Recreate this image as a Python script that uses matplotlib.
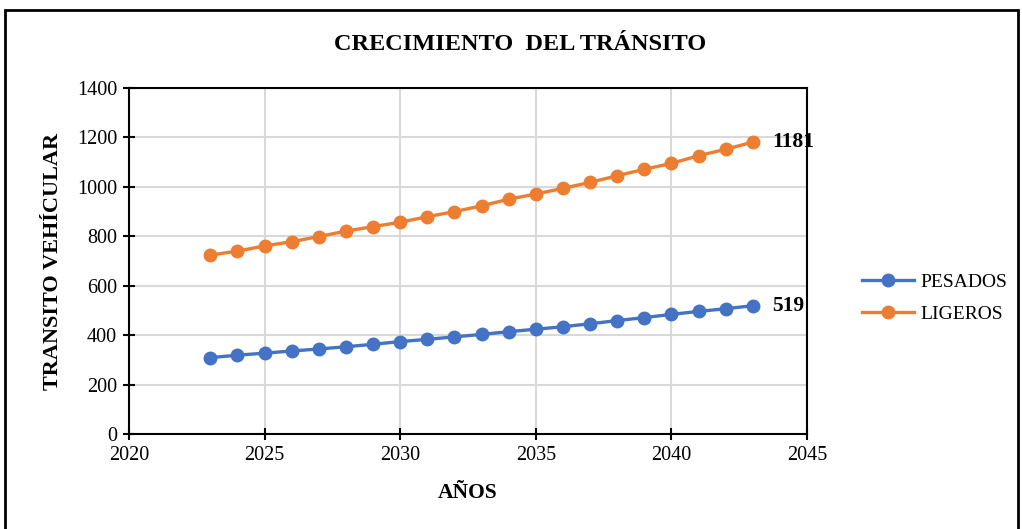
import matplotlib
matplotlib.use("Agg")
import matplotlib.pyplot as plt
from matplotlib.patches import Rectangle

years = list(range(2023, 2044))
pesados = [309, 319, 327, 336, 344, 353, 363, 374, 383, 393, 403, 414, 424, 434, 446, 459, 471, 484, 496, 507, 519]
ligeros = [724, 740, 761, 778, 799, 821, 839, 857, 879, 900, 923, 950, 971, 994, 1018, 1045, 1071, 1095, 1126, 1152, 1181]

x_ticks = [2020, 2025, 2030, 2035, 2040, 2045]
y_ticks = [0, 200, 400, 600, 800, 1000, 1200, 1400]

title = "CRECIMIENTO  DEL TRÁNSITO"
xlabel = "AÑOS"
ylabel = "TRANSITO VEHÍCULAR"
series_names = ["PESADOS", "LIGEROS"]

plt.rcParams['font.family'] = ['Liberation Serif', 'DejaVu Serif']

fig = plt.figure(figsize=(10.22, 5.29), dpi=100)
ax = fig.add_axes([129/1022, 1-434/529, (807-129)/1022, (434-88)/529])

blue = '#4472C4'
orange = '#ED7D31'
ax.plot(years, pesados, color=blue, lw=2.4, marker='o', ms=9, label=series_names[0], zorder=3)
ax.plot(years, ligeros, color=orange, lw=2.4, marker='o', ms=9, label=series_names[1], zorder=3)

ax.set_xlim(x_ticks[0], x_ticks[-1])
ax.set_ylim(y_ticks[0], y_ticks[-1])
ax.set_xticks(x_ticks)
ax.set_yticks(y_ticks)
ax.grid(True, color='#D9D9D9', lw=1.5, zorder=0)
ax.set_axisbelow(True)
for s in ax.spines.values():
    s.set_linewidth(1.5)
    s.set_color('black')
ax.tick_params(direction='inout', length=9, width=1.5, labelsize=14.5, pad=4)

ax.annotate(str(ligeros[-1]), xy=(years[-1], ligeros[-1]), xytext=(14, 0), textcoords='offset points',
            ha='left', va='center', fontsize=15.5, fontweight='bold', annotation_clip=False)
ax.annotate(str(pesados[-1]), xy=(years[-1], pesados[-1]), xytext=(14, 0), textcoords='offset points',
            ha='left', va='center', fontsize=15.5, fontweight='bold', annotation_clip=False)

fig.text(520/1022, 1-44/529, title, ha='center', va='center', fontsize=17.5, fontweight='bold')
ax.set_xlabel(xlabel, fontsize=15.5, fontweight='bold', labelpad=13)
ax.set_ylabel(ylabel, fontsize=16, fontweight='bold', labelpad=10)

leg = ax.legend(loc='center left', bbox_to_anchor=(1.055, 0.392), frameon=False, fontsize=14,
                handlelength=2.7, labelspacing=0.75, handletextpad=0.3)

fig.patches.append(Rectangle((5/1022, -0.05), 1013/1022, 1.05 - 10/529, transform=fig.transFigure,
                             fill=False, edgecolor='black', lw=2))

fig.savefig('out.png', dpi=100)
